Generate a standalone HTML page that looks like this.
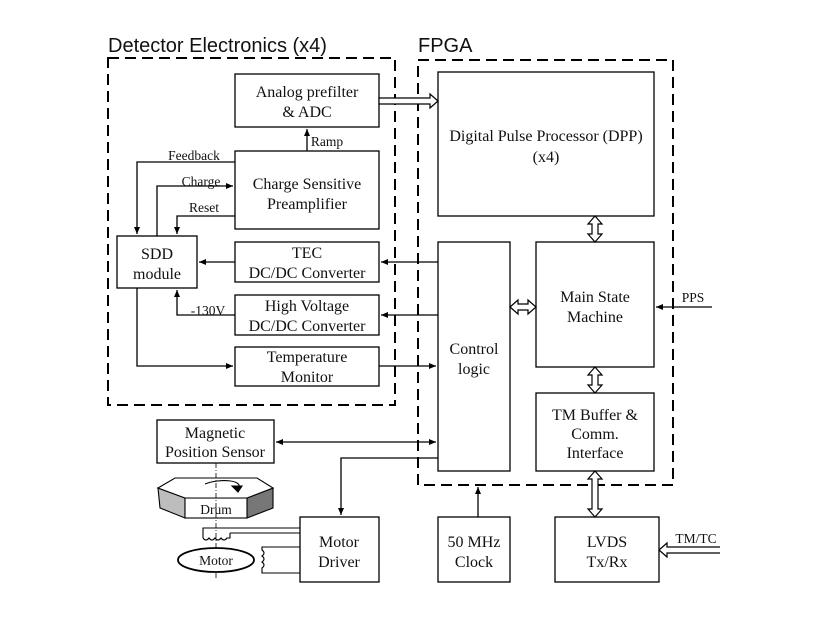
<!DOCTYPE html>
<html><head><meta charset="utf-8"><style>
html,body{margin:0;padding:0;background:#fff}
svg text{font-family:"Liberation Serif",serif;fill:#111}
</style></head><body>
<svg width="830" height="623" viewBox="0 0 830 623" xmlns="http://www.w3.org/2000/svg">
<defs>
<marker id="a" markerWidth="8" markerHeight="8" refX="7" refY="4" orient="auto" markerUnits="userSpaceOnUse"><path d="M0,1 L7,4 L0,7 z" fill="#000"/></marker>
</defs>
<g fill="none" stroke="#000" stroke-width="1.3">
<rect x="108" y="58" width="287" height="347" stroke-width="2" stroke-dasharray="11,6"/>
<rect x="418" y="60" width="255" height="425" stroke-width="2" stroke-dasharray="11,6"/>
<rect x="235" y="74" width="144" height="53"/>
<rect x="235" y="151" width="144" height="78"/>
<rect x="117" y="236" width="80" height="52"/>
<rect x="235" y="242" width="144" height="40"/>
<rect x="235" y="295" width="144" height="40"/>
<rect x="235" y="347" width="144" height="39"/>
<rect x="438" y="72" width="216" height="144"/>
<rect x="438" y="242" width="72" height="229"/>
<rect x="536" y="242" width="118" height="125"/>
<rect x="536" y="393" width="118" height="78"/>
<rect x="157" y="420" width="117" height="43"/>
<rect x="300" y="517" width="79" height="65"/>
<rect x="438" y="517" width="72" height="65"/>
<rect x="555" y="517" width="104" height="65"/>
<line x1="307" y1="151" x2="307" y2="129" marker-end="url(#a)"/>
<polyline points="235,162 137,162 137,234" marker-end="url(#a)"/>
<polyline points="157,236 157,186 233,186" marker-end="url(#a)"/>
<polyline points="235,216 177,216 177,234" marker-end="url(#a)"/>
<line x1="235" y1="262" x2="199" y2="262" marker-end="url(#a)"/>
<polyline points="235,315 177,315 177,290" marker-end="url(#a)"/>
<polyline points="137,288 137,366 233,366" marker-end="url(#a)"/>
<line x1="438" y1="262" x2="381" y2="262" marker-end="url(#a)"/>
<line x1="438" y1="315" x2="381" y2="315" marker-end="url(#a)"/>
<line x1="379" y1="366" x2="436" y2="366" marker-end="url(#a)"/>
<line x1="300" y1="442" x2="436" y2="442" marker-end="url(#a)"/>
<line x1="300" y1="442" x2="276" y2="442" marker-end="url(#a)"/>
<polyline points="438,458 341,458 341,515" marker-end="url(#a)"/>
<line x1="478" y1="517" x2="478" y2="487" marker-end="url(#a)"/>
<line x1="712" y1="307" x2="656" y2="307" marker-end="url(#a)"/>
</g>
<g fill="#fff" stroke="#000" stroke-width="1.2">
<path d="M379,98 L430,98 L430,94 L438,101 L430,108 L430,104 L379,104 z"/>
<path d="M592,224 L592,234 L588,234 L595,242 L602,234 L598,234 L598,224 L602,224 L595,216 L588,224 z"/>
<path d="M592,375 L592,385 L588,385 L595,393 L602,385 L598,385 L598,375 L602,375 L595,367 L588,375 z"/>
<path d="M592,479 L592,509 L588,509 L595,517 L602,509 L598,509 L598,479 L602,479 L595,471 L588,479 z"/>
<path d="M518,304 L528,304 L528,300 L536,307 L528,314 L528,310 L518,310 L518,314 L510,307 L518,300 z"/>
<path d="M720,547 L667,547 L667,543 L659,550 L667,557 L667,553 L720,553"/>
</g>
<g stroke="#000" stroke-width="1.1">
<path d="M160,508 L185,518 L185,498 L158,488 z" fill="#bdbdbd"/>
<path d="M247,518 L273,508 L273,488 L247,498 z" fill="#777"/>
<rect x="185" y="498" width="62" height="20" fill="#fff"/>
<path d="M158,488 L175,478 L257,478 L273,488 L247,498 L185,498 z" fill="#fff"/>
<path d="M205,484 C220,478 245,480 238,489" fill="none"/>
<path d="M232,486 L238,492 L242,486 z" fill="#000"/>
<line x1="216" y1="463" x2="216" y2="578" stroke-dasharray="5,2,1,2" stroke-width="0.8"/>
<ellipse cx="216" cy="560" rx="38" ry="12" fill="#fff" stroke-width="1.8"/>
<path d="M300,528 L203,528 L203,538 M230,533 L300,533 M203,538 q3,4 6,0 q3,4 6,0 q3,4 6,0 q3,4 6,0 L230,538 L230,533" fill="none"/>
<path d="M300,547 L262,547 L262,550 q4,3 0,6 q4,3 0,6 q4,3 0,6 L262,573 L300,573" fill="none"/>
</g>
<text x="108" y="52" font-size="20" style="font-family:'Liberation Sans',sans-serif">Detector Electronics (x4)</text>
<text x="418" y="52" font-size="20" style="font-family:'Liberation Sans',sans-serif">FPGA</text>
<g font-size="16" text-anchor="middle">
<text x="307" y="97">Analog prefilter</text><text x="307" y="117">&amp; ADC</text>
<text x="307" y="189">Charge Sensitive</text><text x="307" y="209">Preamplifier</text>
<text x="157" y="259">SDD</text><text x="157" y="279">module</text>
<text x="307" y="258">TEC</text><text x="307" y="278">DC/DC Converter</text>
<text x="307" y="311">High Voltage</text><text x="307" y="331">DC/DC Converter</text>
<text x="307" y="362">Temperature</text><text x="307" y="382">Monitor</text>
<text x="546" y="141">Digital Pulse Processor (DPP)</text><text x="546" y="162">(x4)</text>
<text x="474" y="354">Control</text><text x="474" y="374">logic</text>
<text x="595" y="302">Main State</text><text x="595" y="322">Machine</text>
<text x="595" y="420">TM Buffer &amp;</text><text x="595" y="439">Comm.</text><text x="595" y="458">Interface</text>
<text x="215" y="438">Magnetic</text><text x="215" y="457">Position Sensor</text>
<text x="339" y="547">Motor</text><text x="339" y="567">Driver</text>
<text x="474" y="547">50 MHz</text><text x="474" y="567">Clock</text>
<text x="607" y="547">LVDS</text><text x="607" y="567">Tx/Rx</text>
</g>
<g font-size="13.5" text-anchor="middle">
<text x="327" y="146">Ramp</text>
<text x="194" y="160">Feedback</text>
<text x="201" y="186">Charge</text>
<text x="204" y="212">Reset</text>
<text x="208" y="315">-130V</text>
<text x="693" y="302">PPS</text>
<text x="696" y="543">TM/TC</text>
<text x="216" y="514">Drum</text>
<text x="216" y="565">Motor</text>
</g>
</svg>
</body></html>
